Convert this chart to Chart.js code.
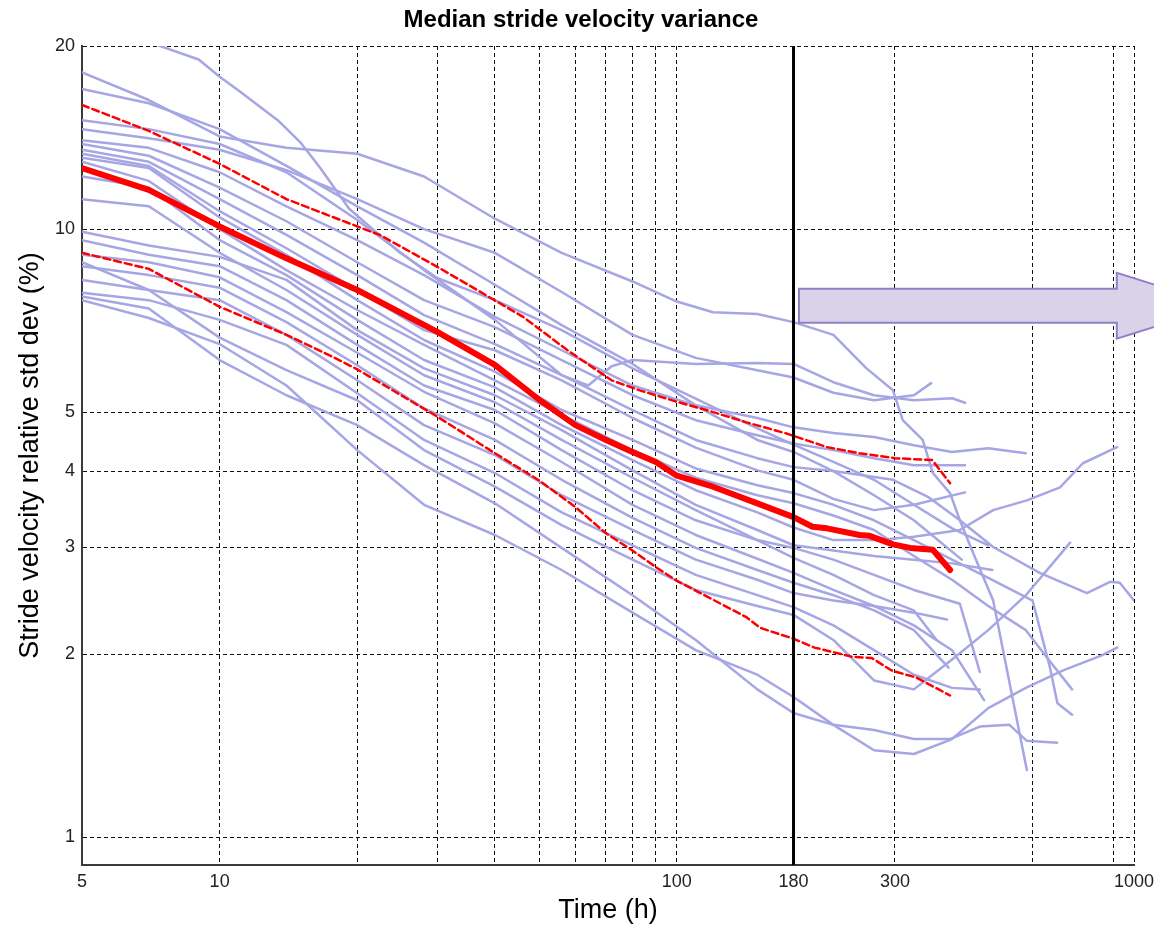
<!DOCTYPE html>
<html>
<head>
<meta charset="utf-8">
<title>Median stride velocity variance</title>
<script src="https://cdn.jsdelivr.net/npm/chart.js@4.4.1/dist/chart.umd.min.js"></script>
<style>
  html, body { margin: 0; padding: 0; background: #fff; }
  canvas { display: block; }
</style>
</head>
<body>
<canvas id="chart" width="1154" height="925"></canvas>
<script>
const FONT = "'Liberation Sans', Arial, Helvetica, sans-serif";

// axes
const xRange = [5, 1000];
const yRange = [0.9, 20];
const xTickValues = [5, 10, 20, 30, 40, 50, 60, 70, 80, 90, 100, 180, 300, 600, 900, 1000];
const xTickLabels = [5, 10, 100, 180, 300, 1000];
const yTickValues = [1, 2, 3, 4, 5, 10, 20];
const markerHour = 180;

// arrow annotation: starts at 185 h, head at 917 h, centred on 7.5 %
const arrowStart = 185;
const arrowHeadAt = 917;
const arrowLevel = 7.48;

// one curve per subject: [hours, relative std dev %]
const subject01 = [[5,18.1],[7,16.3],[10,14.2],[14,13.6],[20,13.3],[28,12.2],[40,10.4],[56,9.14],[80,8.2],[100,7.6],[120,7.3],[150,7.25],[180,7.03],[220,6.7],[260,5.9],[297,5.43],[312,4.85],[345,4.5],[363,3.97],[396,3.68],[416,3.32],[445,2.93],[492,2.45],[583,1.29]];
const subject02 = [[5,23.5],[7,20.3],[9,19.0],[10,17.8],[11,16.9],[13.4,15.1],[15,13.9],[16.6,12.6],[19.2,10.8],[24.8,9.14],[30,8.3],[40,7.64],[56,6.82],[80,5.9],[110,5.26],[150,4.7],[180,4.42],[220,4.14],[270,3.87],[330,3.52],[400,3.22],[480,3.02]];
const subject03 = [[5,17.0],[7,16.1],[10,14.6],[14,12.7],[20,10.9],[28,9.5],[40,8.1],[56,6.95],[80,6.0],[110,5.13],[150,4.5],[180,4.3],[220,4.0],[270,3.65],[330,3.32],[420,2.86]];
const subject04 = [[5,15.1],[7,14.6],[10,13.8],[14,12.4],[20,10.35],[28,8.56],[40,7.09],[56,5.75],[64,5.53],[72,5.95],[80,6.09],[110,6.0],[150,6.02],[180,6.0],[220,5.6],[270,5.33],[330,5.23],[400,5.27],[427,5.18]];
const subject05 = [[5,14.6],[7,14.1],[10,13.5],[14,12.5],[20,11.2],[28,10.0],[40,9.14],[56,7.88],[80,6.7],[110,6.14],[150,5.86],[180,5.7],[220,5.38],[270,5.23],[330,5.33],[360,5.58]];
const subject06 = [[5,14.0],[7,13.6],[10,12.4],[14,10.9],[20,9.59],[28,8.4],[40,7.17],[56,6.32],[80,5.53],[110,5.13],[150,4.89],[180,4.72],[220,4.62],[270,4.55],[330,4.41],[400,4.3],[480,4.36],[580,4.28]];
const subject07 = [[5,13.8],[7,13.2],[10,11.7],[14,10.3],[20,8.82],[28,7.64],[40,6.9],[56,6.09],[80,5.33],[110,4.85],[150,4.58],[180,4.44],[220,4.33],[270,4.2],[330,4.09],[427,4.09]];
const subject08 = [[5,13.5],[7,12.9],[10,11.2],[14,9.78],[20,8.4],[28,7.22],[40,6.47],[56,5.75],[80,5.04],[110,4.5],[150,4.2],[180,4.06],[220,4.0],[297,3.87],[356,3.62],[416,3.32],[492,3.0],[622,2.72],[789,2.52],[886,2.63],[931,2.62],[1000,2.45]];
const subject09 = [[5,13.3],[7,12.7],[10,10.7],[14,9.3],[20,7.94],[28,6.82],[40,6.32],[56,5.64],[80,4.89],[110,4.37],[150,4.01],[180,3.87],[220,3.6],[270,3.45],[330,3.52],[427,3.69]];
const subject10 = [[5,13.1],[7,12.6],[10,10.45],[14,9.07],[20,7.64],[28,6.57],[40,5.83],[56,5.04],[80,4.5],[110,4.04],[150,3.79],[180,3.68],[220,3.52],[270,3.32],[330,3.08],[400,2.86],[480,2.67],[600,2.45],[655,1.9],[680,1.66],[732,1.59]];
const subject11 = [[5,12.9],[7,12.0],[10,10.0],[14,8.56],[20,7.36],[28,6.45],[40,5.64],[56,4.95],[80,4.33],[110,3.9],[150,3.65],[180,3.54],[220,3.38],[270,3.2],[330,2.9],[400,2.65],[480,2.4],[580,2.19],[650,1.96],[732,1.75]];
const subject12 = [[5,12.2],[7,11.7],[10,9.59],[14,8.4],[20,7.09],[28,6.09],[40,5.49],[56,4.76],[80,4.17],[110,3.72],[150,3.42],[180,3.23],[220,3.08],[274,3.08],[330,3.12],[416,3.2],[492,3.45],[583,3.58],[689,3.76],[773,4.12],[918,4.38]];
const subject13 = [[5,11.2],[7,10.9],[10,9.14],[14,7.94],[20,6.7],[28,5.75],[40,5.19],[56,4.5],[80,3.9],[110,3.45],[150,3.08],[180,2.88],[220,2.7],[270,2.5],[330,2.36],[370,2.11]];
const subject14 = [[5,9.9],[7,9.4],[10,9.0],[14,8.25],[20,6.82],[28,5.9],[40,5.33],[56,4.67],[80,4.01],[110,3.52],[150,3.2],[180,3.02],[220,2.96],[270,2.9],[330,2.86],[400,2.82],[490,2.75]];
const subject15 = [[5,9.59],[7,9.07],[10,8.69],[14,7.64],[20,6.45],[28,5.53],[40,5.04],[56,4.33],[80,3.72],[110,3.32],[150,3.08],[180,2.99],[220,2.86],[270,2.7],[330,2.55],[416,2.42],[460,1.87]];
const subject16 = [[5,9.07],[7,8.82],[10,8.33],[14,7.3],[20,6.26],[28,5.4],[40,4.79],[56,4.14],[80,3.52],[110,3.14],[150,2.87],[180,2.72],[220,2.55],[270,2.4],[330,2.34],[390,2.28]];
const subject17 = [[5,8.69],[7,8.4],[10,8.01],[14,7.03],[20,5.97],[28,5.07],[40,4.5],[56,3.87],[80,3.35],[110,2.99],[150,2.75],[180,2.62],[220,2.5],[270,2.36],[330,2.19],[393,1.9]];
const subject18 = [[5,8.25],[7,7.94],[10,7.64],[14,6.7],[20,5.64],[28,4.76],[40,4.25],[56,3.65],[80,3.2],[110,2.86],[150,2.65],[180,2.52],[220,2.45],[270,2.4],[330,2.23],[400,2.03],[470,1.68]];
const subject19 = [[5,7.86],[7,7.64],[10,7.09],[14,6.45],[20,5.37],[28,4.5],[40,3.97],[56,3.42],[80,3.02],[110,2.7],[150,2.5],[180,2.39],[220,2.23],[270,2.03],[330,1.85],[400,1.76],[460,1.75]];
const subject20 = [[5,8.82],[7,7.94],[10,6.63],[14,5.86],[20,5.23],[28,4.33],[40,3.77],[56,3.26],[80,2.86],[110,2.55],[150,2.4],[180,2.32],[220,2.11],[270,1.81],[330,1.75],[400,1.96],[480,2.19],[580,2.5],[725,3.05]];
const subject21 = [[5,7.64],[7,7.14],[10,6.47],[14,5.53],[20,4.33],[28,3.52],[40,3.14],[56,2.75],[80,2.34],[110,2.03],[150,1.85],[180,1.7],[220,1.53],[270,1.39],[330,1.37],[400,1.45],[480,1.63],[580,1.76],[700,1.88],[850,1.99],[918,2.05]];
const subject22 = [[5,7.75],[7,7.4],[10,6.09],[14,5.33],[20,4.76],[28,4.09],[40,3.54],[56,2.99],[80,2.5],[110,2.11],[150,1.75],[180,1.6],[220,1.53],[270,1.5],[330,1.45],[396,1.45],[460,1.52],[534,1.53],[583,1.44],[679,1.43]];

const subjects = [
  subject01, subject02, subject03, subject04, subject05, subject06, subject07, subject08,
  subject09, subject10, subject11, subject12, subject13, subject14, subject15, subject16,
  subject17, subject18, subject19, subject20, subject21, subject22,
];

// median and percentile band over subjects
const medianCurve = [[5,12.6],[7,11.6],[10,10.1],[14,8.95],[20,7.94],[30,6.77],[40,5.98],[50,5.24],[60,4.76],[70,4.5],[80,4.3],[90,4.14],[100,3.93],[120,3.77],[150,3.54],[180,3.36],[198,3.24],[213,3.22],[251,3.14],[264,3.13],[297,3.03],[324,2.99],[363,2.97],[396,2.75]];
const upperBand = [[5,16.0],[7,14.5],[10,12.8],[14,11.2],[20,10.1],[22.4,9.78],[30,8.66],[46,7.18],[57.5,6.33],[72,5.64],[83,5.43],[100,5.2],[116,5.04],[142,4.81],[174,4.61],[213,4.38],[251,4.28],[300,4.2],[362,4.17],[396,3.82]];
const lowerBand = [[5,9.14],[7,8.6],[10,7.45],[14,6.7],[17.7,6.16],[20,5.88],[30,4.91],[40,4.28],[50,3.86],[60,3.49],[70,3.16],[80,2.96],[90,2.78],[100,2.64],[142,2.3],[152,2.21],[180,2.12],[200,2.05],[242,1.98],[267,1.97],[295,1.88],[334,1.83],[396,1.71]];

const toPoints = (pairs) => pairs.map(([x, y]) => ({ x, y }));

const subjectColor = 'rgb(166, 166, 228)';

const datasets = [
  {
    // 180 h marker
    data: [{ x: markerHour, y: yRange[0] }, { x: markerHour, y: yRange[1] }],
    borderColor: '#000',
    borderWidth: 3,
    order: 0,
  },
  {
    data: toPoints(medianCurve),
    borderColor: '#ff0000',
    borderWidth: 6,
    order: 1,
  },
  ...[upperBand, lowerBand].map((band) => ({
    data: toPoints(band),
    borderColor: '#ff0000',
    borderWidth: 2.5,
    borderDash: [7, 4],
    order: 2,
  })),
  ...subjects.map((s) => ({
    data: toPoints(s),
    borderColor: subjectColor,
    borderWidth: 2.5,
    order: 3,
  })),
];

const titlePlugin = {
  id: 'plotTitle',
  beforeDraw(chart) {
    const { ctx, width } = chart;
    ctx.save();
    ctx.font = `bold 24px ${FONT}`;
    ctx.fillStyle = '#000';
    ctx.textAlign = 'center';
    ctx.textBaseline = 'middle';
    ctx.fillText('Median stride velocity variance', width / 2 + 4, 20);
    ctx.restore();
  },
};

// block arrow pointing right, running off the canvas edge
const arrowPlugin = {
  id: 'blockArrow',
  afterDatasetsDraw(chart) {
    const { ctx, scales } = chart;
    const x0 = scales.x.getPixelForValue(arrowStart);
    const xh = scales.x.getPixelForValue(arrowHeadAt);
    const yc = scales.y.getPixelForValue(arrowLevel);
    const body = 17;
    const head = 33;
    const tip = xh + 104;
    ctx.save();
    ctx.beginPath();
    ctx.moveTo(x0, yc - body);
    ctx.lineTo(xh, yc - body);
    ctx.lineTo(xh, yc - head);
    ctx.lineTo(tip, yc);
    ctx.lineTo(xh, yc + head);
    ctx.lineTo(xh, yc + body);
    ctx.lineTo(x0, yc + body);
    ctx.closePath();
    ctx.fillStyle = '#d9d2e9';
    ctx.fill();
    ctx.lineWidth = 2;
    ctx.strokeStyle = '#8f80c6';
    ctx.stroke();
    ctx.restore();
  },
};

const gridStyle = { color: '#111', lineWidth: 1, drawTicks: false };
const borderStyle = { display: true, color: '#3a3a3a', width: 2, dash: [4, 3] };
const tickFont = { family: FONT, size: 18 };

new Chart(document.getElementById('chart'), {
  type: 'line',
  data: { datasets },
  options: {
    responsive: false,
    animation: false,
    devicePixelRatio: 1,
    events: [],
    layout: { padding: { top: 46, right: 0, left: 0, bottom: 0 } },
    elements: {
      point: { radius: 0 },
      line: { tension: 0, borderJoinStyle: 'round', borderCapStyle: 'round' },
    },
    plugins: {
      legend: { display: false },
      tooltip: { enabled: false },
    },
    scales: {
      x: {
        type: 'logarithmic',
        min: xRange[0],
        max: xRange[1],
        afterBuildTicks: (scale) => {
          scale.ticks = xTickValues.map((v) => ({ value: v }));
        },
        afterFit: (scale) => {
          scale.height = 60;
          scale.paddingLeft = 0;
          scale.paddingRight = 20;
        },
        ticks: {
          autoSkip: false,
          maxRotation: 0,
          padding: 6,
          color: '#222',
          font: tickFont,
          callback: (v) => (xTickLabels.includes(v) ? String(v) : ''),
        },
        grid: gridStyle,
        border: borderStyle,
        title: {
          display: true,
          text: 'Time (h)',
          color: '#000',
          font: { family: FONT, size: 27, lineHeight: 1 },
          padding: { top: 0, bottom: 1 },
        },
      },
      y: {
        type: 'logarithmic',
        min: yRange[0],
        max: yRange[1],
        afterBuildTicks: (scale) => {
          scale.ticks = yTickValues.map((v) => ({ value: v }));
        },
        afterFit: (scale) => {
          scale.width = 82;
          scale.paddingTop = 0;
          scale.paddingBottom = 0;
        },
        ticks: {
          autoSkip: false,
          padding: 7,
          color: '#222',
          font: tickFont,
          callback: (v) => String(v),
        },
        grid: gridStyle,
        border: borderStyle,
        title: {
          display: true,
          text: 'Stride velocity relative std dev (%)',
          color: '#000',
          font: { family: FONT, size: 27, lineHeight: 1 },
          padding: { top: 17, bottom: 0 },
        },
      },
    },
  },
  plugins: [titlePlugin, arrowPlugin],
});
</script>
</body>
</html>
